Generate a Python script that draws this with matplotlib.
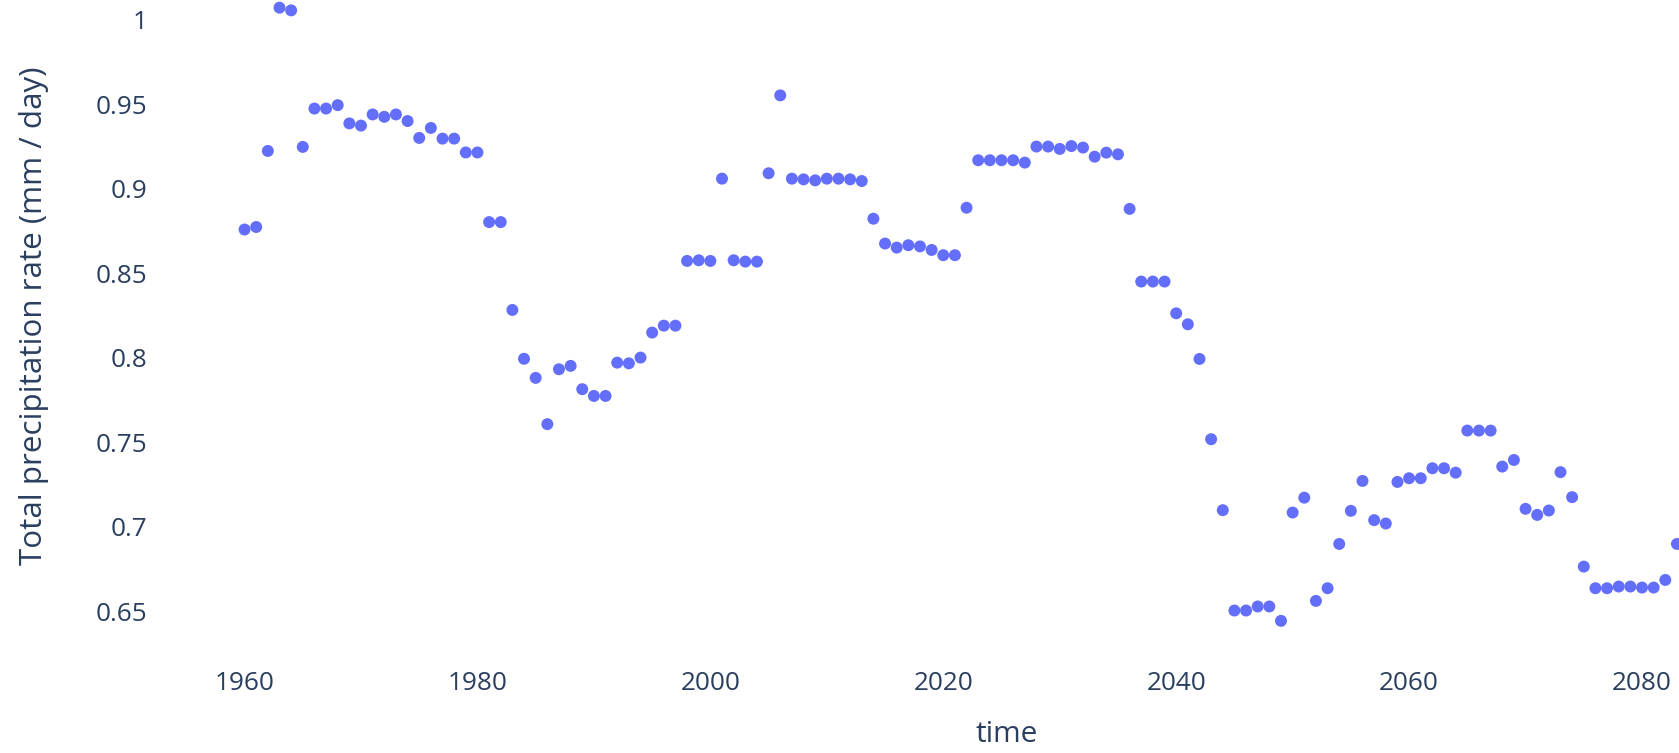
import matplotlib

matplotlib.use("Agg")
import matplotlib.pyplot as plt
import numpy as np

# Annual mean total precipitation rate (mm / day)
YEARS = np.arange(1960, 2084)
PRECIP = [
    0.8760, 0.8775, 0.9225, 1.0073, 1.0057, 0.9249, 0.9476, 0.9476, 0.9496, 0.9388,  # 1960s
    0.9375, 0.9441, 0.9427, 0.9441, 0.9402, 0.9302, 0.9361, 0.9298, 0.9298, 0.9216,  # 1970s
    0.9216, 0.8804, 0.8804, 0.8284, 0.7995, 0.7882, 0.7608, 0.7933, 0.7953, 0.7815,  # 1980s
    0.7775, 0.7775, 0.7972, 0.7968, 0.8002, 0.8150, 0.8191, 0.8191, 0.8574, 0.8578,  # 1990s
    0.8574, 0.9061, 0.8578, 0.8570, 0.8570, 0.9093, 0.9554, 0.9061, 0.9057, 0.9051,  # 2000s
    0.9061, 0.9061, 0.9057, 0.9047, 0.8824, 0.8677, 0.8653, 0.8667, 0.8660, 0.8639,  # 2010s
    0.8608, 0.8608, 0.8889, 0.9170, 0.9170, 0.9170, 0.9170, 0.9156, 0.9251, 0.9251,  # 2020s
    0.9237, 0.9254, 0.9245, 0.9191, 0.9215, 0.9205, 0.8882, 0.8452, 0.8452, 0.8452,  # 2030s
    0.8264, 0.8199, 0.7994, 0.7519, 0.7099, 0.6505, 0.6505, 0.6529, 0.6529, 0.6444,  # 2040s
    0.7085, 0.7173, 0.6562, 0.6637, 0.6899, 0.7095, 0.7272, 0.7040, 0.7020, 0.7266,  # 2050s
    0.7288, 0.7288, 0.7347, 0.7347, 0.7321, 0.7570, 0.7570, 0.7570, 0.7357, 0.7396,  # 2060s
    0.7107, 0.7071, 0.7097, 0.7324, 0.7176, 0.6765, 0.6637, 0.6637, 0.6647, 0.6647,  # 2070s
    0.6641, 0.6641, 0.6686, 0.6899,                                                  # 2080s
]
assert len(PRECIP) == len(YEARS)

X_TICKS = [1960, 1980, 2000, 2020, 2040, 2060, 2080]
Y_TICKS = [0.65, 0.70, 0.75, 0.80, 0.85, 0.90, 0.95, 1.00]
Y_TICK_LABELS = ["0.65", "0.7", "0.75", "0.8", "0.85", "0.9", "0.95", "1"]

MARKER = "#636efa"
TEXT = "#2a3f5f"

W_PX, H_PX, DPI = 1679, 753, 100

plt.rcParams["font.family"] = ["Open Sans", "DejaVu Sans"]

fig = plt.figure(figsize=(W_PX / DPI, H_PX / DPI), dpi=DPI, facecolor="white")

# plot area runs past the right and top edges of the canvas
left_px, right_px, bottom_px, top_px = 160, 1853.6, 657, -29
ax = fig.add_axes([
    left_px / W_PX,
    1 - bottom_px / H_PX,
    (right_px - left_px) / W_PX,
    (bottom_px - top_px) / H_PX,
])
ax.set_facecolor("white")

ax.scatter(YEARS, PRECIP, s=74, color=MARKER, edgecolors="none", zorder=3)

ax.set_xticks(X_TICKS)
ax.set_yticks(Y_TICKS)
ax.set_yticklabels(Y_TICK_LABELS)
# limits after the ticks so set_ticks cannot widen them
ax.set_xlim(1952.74, 2098.17)
ax.set_ylim(0.623, 1.029)

for side in ("top", "right", "bottom", "left"):
    ax.spines[side].set_visible(False)
ax.tick_params(axis="both", length=0, labelsize=18.8, colors=TEXT)
ax.tick_params(axis="y", pad=9)
ax.tick_params(axis="x", pad=10)

ax.set_xlabel("time", fontsize=21.5, color=TEXT)
ax.xaxis.set_label_coords(0.5, (bottom_px - 735) / (bottom_px - top_px))
ax.xaxis.label.set_va("center")

ax.set_ylabel("Total precipitation rate (mm / day)", fontsize=22.6, color=TEXT)
ax.yaxis.set_label_coords((34 - left_px) / (right_px - left_px), (bottom_px - 316) / (bottom_px - top_px))
ax.yaxis.label.set_va("center")

fig.savefig("out.png", dpi=DPI, facecolor="white")
